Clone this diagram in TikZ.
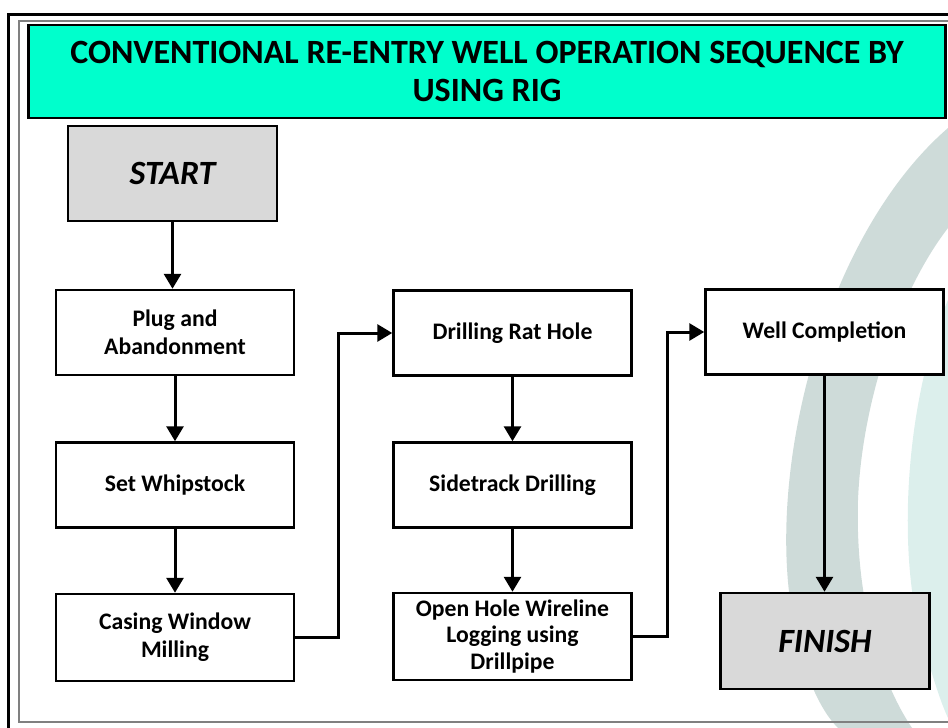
\documentclass[tikz,border=0pt]{standalone}
\usepackage{fontspec}
\setmainfont{Carlito}
\usetikzlibrary{arrows.meta}
\definecolor{titlecyan}{HTML}{00FFCC}
\definecolor{boxgray}{HTML}{D9D9D9}
\definecolor{wmgray}{HTML}{CEDBD9}
\definecolor{wmteal}{HTML}{DCEFEC}
\tikzset{
  stepbox/.style={draw=black, line width=2.5pt, fill=white, align=center,
    minimum width=238pt, minimum height=85pt, inner sep=2pt,
    font=\fontsize{23.7}{28}\selectfont\bfseries},
  endbox/.style={draw=black, line width=2.5pt, fill=boxgray, align=center,
    minimum width=209pt, minimum height=95pt,
    font=\fontsize{34}{40}\selectfont\bfseries\itshape},
  conn/.style={draw=black, line width=3pt, -{Triangle[width=17pt,length=15pt]}},
}
\begin{document}
\begin{tikzpicture}[x=1pt, y=-1pt]
\useasboundingbox (0,0) rectangle (948,728);
% watermark
\fill[wmteal] (948,300) .. controls (905,400) and (895,560) .. (925,650) .. controls (935,685) and (942,705) .. (948,718) -- cycle;
\fill[wmgray] (948,128) .. controls (830,230) and (770,450) .. (790,600) .. controls (800,670) and (820,710) .. (838,728) -- (912,728) .. controls (880,680) and (855,600) .. (858,500) .. controls (862,400) and (900,290) .. (948,228) -- cycle;
% frame
\draw[black, line width=3pt] (8,728) -- (8,14) -- (948,14);
\draw[gray, line width=1.2pt] (948,21) -- (19,21) -- (19,722) -- (948,722);
% title
\node[draw=black, line width=2.5pt, fill=titlecyan, minimum width=917pt, minimum height=93pt,
  align=center, font=\fontsize{34}{38}\selectfont\bfseries] (title) at (487,71.5)
  {CONVENTIONAL RE-ENTRY WELL OPERATION SEQUENCE BY\\USING RIG};
% nodes
\node[endbox] (start) at (172.5,173.5) {START};
\node[stepbox] (plug) at (175,332.5) {Plug and\\Abandonment};
\node[stepbox] (whip) at (175,485) {Set Whipstock};
\node[stepbox, minimum height=87pt] (cas) at (175,637.5) {Casing Window\\Milling};
\node[stepbox] (rat) at (512.5,333) {Drilling Rat Hole};
\node[stepbox] (side) at (512.5,485) {Sidetrack Drilling};
\node[stepbox, minimum height=87pt, font=\fontsize{23.7}{26.5}\selectfont\bfseries] (open) at (512.5,636.5) {Open Hole Wireline\\Logging using\\Drillpipe};
\node[stepbox] (wc) at (824.5,332) {Well Completion};
\node[endbox, minimum height=96pt] (fin) at (825,641) {FINISH};
% connectors
\draw[conn] (start) -- (start |- plug.north);
\draw[conn] (plug) -- (whip);
\draw[conn] (whip) -- (cas);
\draw[conn] (cas.east) -- ++(43,0) |- (rat.west);
\draw[conn] (rat) -- (side);
\draw[conn] (side) -- (open);
\draw[conn] (open.east) -- ++(35,0) |- (wc.west);
\draw[conn] (wc.south) -- (wc.south |- fin.north);
\end{tikzpicture}
\end{document}
